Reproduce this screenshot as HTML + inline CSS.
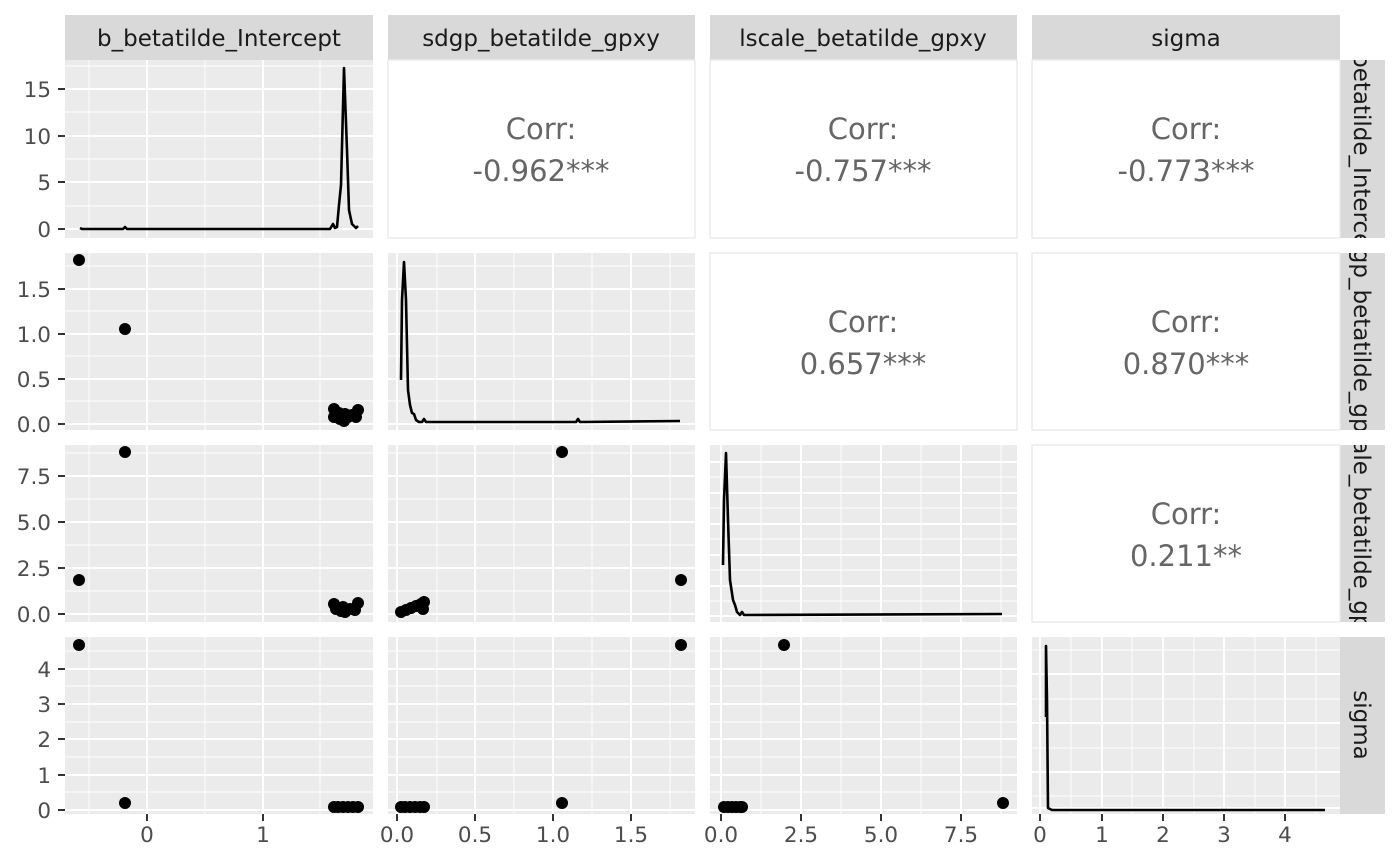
<!DOCTYPE html>
<html><head><meta charset="utf-8"><style>body{margin:0;background:#fff}svg{display:block}</style></head><body>
<svg width="1400" height="865" xmlns="http://www.w3.org/2000/svg" font-family="DejaVu Sans, Liberation Sans, sans-serif">
<defs>
<clipPath id="r1"><rect x="1340" y="60" width="45" height="178"/></clipPath>
<clipPath id="r2"><rect x="1340" y="253" width="45" height="177"/></clipPath>
<clipPath id="r3"><rect x="1340" y="445" width="45" height="177"/></clipPath>
</defs>
<g fill="#d9d9d9"><rect x="65" y="15" width="308" height="45"/><rect x="388" y="15" width="307" height="45"/><rect x="710" y="15" width="307" height="45"/><rect x="1032" y="15" width="308" height="45"/>
<rect x="1340" y="60" width="45" height="178"/><rect x="1340" y="253" width="45" height="177"/><rect x="1340" y="445" width="45" height="177"/><rect x="1340" y="637" width="45" height="177"/></g>
<g font-size="23" fill="#1a1a1a" text-anchor="middle"><text x="219" y="46">b_betatilde_Intercept</text><text x="541" y="46">sdgp_betatilde_gpxy</text><text x="863" y="46">lscale_betatilde_gpxy</text><text x="1186" y="46">sigma</text></g>
<g font-size="23" fill="#1a1a1a" text-anchor="middle">
<g clip-path="url(#r1)"><text transform="translate(1354,149) rotate(90)">b_betatilde_Intercept</text></g>
<g clip-path="url(#r2)"><text transform="translate(1354,341) rotate(90)">sdgp_betatilde_gpxy</text></g>
<g clip-path="url(#r3)"><text transform="translate(1354,533) rotate(90)">lscale_betatilde_gpxy</text></g>
<text transform="translate(1354,725) rotate(90)">sigma</text>
</g>
<g fill="#ebebeb"><rect x="65" y="60" width="308" height="178"/><rect x="65" y="253" width="308" height="177"/><rect x="65" y="445" width="308" height="177"/><rect x="65" y="637" width="308" height="177"/>
<rect x="388" y="253" width="307" height="177"/><rect x="388" y="445" width="307" height="177"/><rect x="388" y="637" width="307" height="177"/>
<rect x="710" y="445" width="307" height="177"/><rect x="710" y="637" width="307" height="177"/><rect x="1032" y="637" width="308" height="177"/></g>
<g fill="#fff" stroke="#ebebeb" stroke-width="1.5"><rect x="388" y="60" width="307" height="178"/><rect x="710" y="60" width="307" height="178"/><rect x="1032" y="60" width="308" height="178"/><rect x="710" y="253" width="307" height="177"/><rect x="1032" y="253" width="308" height="177"/><rect x="1032" y="445" width="308" height="177"/></g>
<g font-size="29" fill="#666" text-anchor="middle">
<text x="541" y="139">Corr:</text><text x="541" y="181">-0.962***</text>
<text x="863" y="139">Corr:</text><text x="863" y="181">-0.757***</text>
<text x="1186" y="139">Corr:</text><text x="1186" y="181">-0.773***</text>
<text x="863" y="332">Corr:</text><text x="863" y="374">0.657***</text>
<text x="1186" y="332">Corr:</text><text x="1186" y="374">0.870***</text>
<text x="1186" y="524">Corr:</text><text x="1186" y="566">0.211**</text>
</g>
<g stroke="#fff" stroke-width="0.9">
<path d="M89 60V238M205 60V238M320 60V238M89 253V430M205 253V430M320 253V430M89 445V622M205 445V622M320 445V622M89 637V814M205 637V814M320 637V814"/>
<path d="M437 253V430M514 253V430M592 253V430M670 253V430M437 445V622M514 445V622M592 445V622M670 445V622M437 637V814M514 637V814M592 637V814M670 637V814"/>
<path d="M761 445V622M841 445V622M921 445V622M1001 445V622M761 637V814M841 637V814M921 637V814M1001 637V814"/>
<path d="M1071 637V814M1132 637V814M1194 637V814M1255 637V814M1316 637V814"/>
<path d="M65 66H373M65 112H373M65 159H373M65 206H373"/>
<path d="M65 401H373M65 356H373M65 311H373M65 266H373M388 401H695M388 356H695M388 311H695M388 266H695"/>
<path d="M65 591H373M65 545H373M65 499H373M65 453H373M388 591H695M388 545H695M388 499H695M388 453H695M710 601H1017M710 570H1017M710 539H1017M710 508H1017M710 477H1017"/>
<path d="M65 792H373M65 757H373M65 722H373M65 686H373M65 651H373M388 792H695M388 757H695M388 722H695M388 686H695M388 651H695M710 792H1017M710 757H1017M710 722H1017M710 686H1017M710 651H1017M1032 796H1340M1032 748H1340M1032 699H1340M1032 650H1340"/>
</g>
<g stroke="#fff" stroke-width="1.9">
<path d="M147 60V238M263 60V238M147 253V430M263 253V430M147 445V622M263 445V622M147 637V814M263 637V814"/>
<path d="M397 253V430M475 253V430M553 253V430M631 253V430M397 445V622M475 445V622M553 445V622M631 445V622M397 637V814M475 637V814M553 637V814M631 637V814"/>
<path d="M721 445V622M801 445V622M881 445V622M961 445V622M721 637V814M801 637V814M881 637V814M961 637V814"/>
<path d="M1040 637V814M1102 637V814M1163 637V814M1224 637V814M1285 637V814"/>
<path d="M65 229H373M65 182H373M65 136H373M65 89H373"/>
<path d="M65 424H373M65 379H373M65 334H373M65 289H373M388 424H695M388 379H695M388 334H695M388 289H695"/>
<path d="M65 614H373M65 568H373M65 522H373M65 476H373M388 614H695M388 568H695M388 522H695M388 476H695M710 616H1017M710 586H1017M710 555H1017M710 524H1017M710 493H1017M710 462H1017"/>
<path d="M65 810H373M65 775H373M65 739H373M65 704H373M65 669H373M388 810H695M388 775H695M388 739H695M388 704H695M388 669H695M710 810H1017M710 775H1017M710 739H1017M710 704H1017M710 669H1017M1032 808H1340M1032 772H1340M1032 723H1340M1032 674H1340"/>
</g>
<g fill="none" stroke="#000" stroke-width="2.6" stroke-linejoin="round">
<path d="M80 228L82 229L123 229L125 227L127 229L330 229L333 224L335 228L337 227L339 205L341 185L344 68L347 150L349 210L352 224L356 228L358 226"/>
<path d="M401 380L402 300L404 262L406 300L408 390L410 405L412 413L414 414L416 420L419 422L422 422L424 419L426 422L576 422L578 419L580 422L680 421"/>
<path d="M723 565L724 500L726 453L728 520L730 580L733 600L735 605L737 612L740 615L742 612L744 615L1002 614"/>
<path d="M1046 717L1046 646L1047 700L1048 808L1052 810L1325 810"/>
</g>
<g fill="#000">
<circle cx="79" cy="260" r="6"/><circle cx="125" cy="329" r="6"/>
<circle cx="334" cy="409" r="6"/><circle cx="334" cy="417" r="6"/><circle cx="340" cy="419" r="6"/><circle cx="344" cy="421" r="6"/><circle cx="348" cy="417" r="6"/><circle cx="352" cy="415" r="6"/><circle cx="356" cy="417" r="6"/><circle cx="358" cy="410" r="6"/><circle cx="345" cy="414" r="6"/><circle cx="339" cy="413" r="6"/>
<circle cx="79" cy="580" r="6"/><circle cx="125" cy="452" r="6"/>
<circle cx="334" cy="604" r="6"/><circle cx="336" cy="609" r="6"/><circle cx="341" cy="611" r="6"/><circle cx="345" cy="612" r="6"/><circle cx="350" cy="609" r="6"/><circle cx="355" cy="610" r="6"/><circle cx="358" cy="603" r="6"/><circle cx="343" cy="607" r="6"/>
<circle cx="79" cy="645" r="6"/><circle cx="125" cy="803" r="6"/>
<circle cx="334" cy="807" r="6"/><circle cx="338" cy="807" r="6"/><circle cx="343" cy="807" r="6"/><circle cx="348" cy="807" r="6"/><circle cx="353" cy="807" r="6"/><circle cx="358" cy="807" r="6"/>
<circle cx="562" cy="452" r="6"/><circle cx="681" cy="580" r="6"/>
<circle cx="401" cy="612" r="6"/><circle cx="406" cy="610" r="6"/><circle cx="411" cy="608" r="6"/><circle cx="416" cy="606" r="6"/><circle cx="421" cy="604" r="6"/><circle cx="424" cy="602" r="6"/><circle cx="423" cy="609" r="6"/>
<circle cx="681" cy="645" r="6"/><circle cx="562" cy="803" r="6"/>
<circle cx="401" cy="807" r="6"/><circle cx="405" cy="807" r="6"/><circle cx="410" cy="807" r="6"/><circle cx="415" cy="807" r="6"/><circle cx="420" cy="807" r="6"/><circle cx="424" cy="807" r="6"/>
<circle cx="784" cy="645" r="6"/><circle cx="1003" cy="803" r="6"/>
<circle cx="724" cy="807" r="6"/><circle cx="728" cy="807" r="6"/><circle cx="732" cy="807" r="6"/><circle cx="736" cy="807" r="6"/><circle cx="740" cy="807" r="6"/><circle cx="742" cy="807" r="6"/>
</g>
<g stroke="#333" stroke-width="2">
<path d="M58 229H65M58 182H65M58 136H65M58 89H65"/>
<path d="M58 424H65M58 379H65M58 334H65M58 289H65"/>
<path d="M58 614H65M58 568H65M58 522H65M58 476H65"/>
<path d="M58 810H65M58 775H65M58 739H65M58 704H65M58 669H65"/>
<path d="M147 814V821M263 814V821M397 814V821M475 814V821M553 814V821M631 814V821M721 814V821M801 814V821M881 814V821M961 814V821M1040 814V821M1102 814V821M1163 814V821M1224 814V821M1285 814V821"/>
</g>
<g font-size="21.5" fill="#4d4d4d" text-anchor="end">
<text x="51" y="237">0</text><text x="51" y="190">5</text><text x="51" y="144">10</text><text x="51" y="97">15</text>
<text x="51" y="432">0.0</text><text x="51" y="387">0.5</text><text x="51" y="342">1.0</text><text x="51" y="297">1.5</text>
<text x="51" y="622">0.0</text><text x="51" y="576">2.5</text><text x="51" y="530">5.0</text><text x="51" y="484">7.5</text>
<text x="51" y="818">0</text><text x="51" y="783">1</text><text x="51" y="747">2</text><text x="51" y="712">3</text><text x="51" y="677">4</text>
</g>
<g font-size="21.5" fill="#4d4d4d" text-anchor="middle">
<text x="147" y="842">0</text><text x="263" y="842">1</text>
<text x="397" y="842">0.0</text><text x="475" y="842">0.5</text><text x="553" y="842">1.0</text><text x="631" y="842">1.5</text>
<text x="721" y="842">0.0</text><text x="801" y="842">2.5</text><text x="881" y="842">5.0</text><text x="961" y="842">7.5</text>
<text x="1040" y="842">0</text><text x="1102" y="842">1</text><text x="1163" y="842">2</text><text x="1224" y="842">3</text><text x="1285" y="842">4</text>
</g>
</svg>
</body></html>
